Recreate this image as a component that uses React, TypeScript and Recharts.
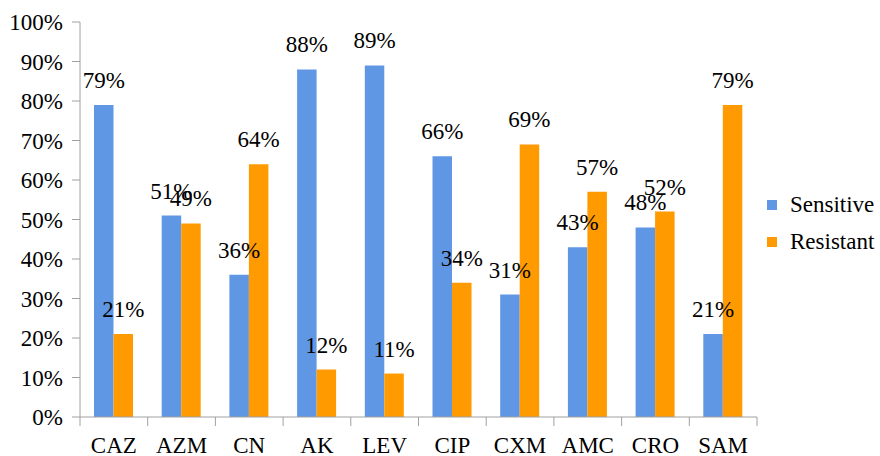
import React from 'react';
import { BarChart, Bar, XAxis, YAxis, Legend, LabelList } from 'recharts';

const categories = ['CAZ', 'AZM', 'CN', 'AK', 'LEV', 'CIP', 'CXM', 'AMC', 'CRO', 'SAM'];
const sensitive = [79, 51, 36, 88, 89, 66, 31, 43, 48, 21];
const resistant = [21, 49, 64, 12, 11, 34, 69, 57, 52, 79];
const yTicks = [0, 10, 20, 30, 40, 50, 60, 70, 80, 90, 100];
const seriesNames = ['Sensitive', 'Resistant'];

const data = categories.map((name, i) => ({
  name,
  Sensitive: sensitive[i],
  Resistant: resistant[i],
}));

const FONT = 'Liberation Serif, Tinos, Times New Roman, DejaVu Serif, serif';
const AXIS = '#A0A0A0';
const BLUE = '#6097E4';
const ORANGE = '#FF9A00';

// Category label plus tick marks placed on the band boundaries
function CategoryTick(props: any) {
  const { x, y, payload, index, visibleTicksCount, width } = props;
  const half =
    typeof payload.offset === 'number' && payload.offset > 0
      ? payload.offset
      : width / visibleTicksCount / 2;
  return (
    <g>
      <line x1={x - half} x2={x - half} y1={y} y2={y + 9} stroke={AXIS} strokeWidth={1} />
      {index === visibleTicksCount - 1 && (
        <line x1={x + half} x2={x + half} y1={y} y2={y + 9} stroke={AXIS} strokeWidth={1} />
      )}
      <text
        x={x}
        y={y + 36}
        textAnchor="middle"
        style={{ fontFamily: FONT, fontSize: 23, fill: '#000' }}
      >
        {payload.value}
      </text>
    </g>
  );
}

function LegendContent(props: any) {
  const payload = [...(props.payload || [])].sort(
    (a: any, b: any) => seriesNames.indexOf(a.value) - seriesNames.indexOf(b.value)
  );
  return (
    <div>
      {payload.map((entry: any) => (
        <div
          key={entry.value}
          style={{ display: 'flex', alignItems: 'center', height: 36.7 }}
        >
          <span
            style={{
              display: 'inline-block',
              width: 10,
              height: 10,
              background: entry.color,
              marginRight: 13,
            }}
          />
          <span style={{ fontFamily: FONT, fontSize: 23, color: '#000', whiteSpace: 'nowrap' }}>
            {entry.value}
          </span>
        </div>
      ))}
    </div>
  );
}

const labelStyle = { fontFamily: FONT, fontSize: 23, fill: '#000' };

export default function App() {
  return (
    <div style={{ position: 'absolute', left: 0, top: 0, background: '#fff', fontFamily: FONT }}>
      <BarChart
        width={880}
        height={456}
        data={data}
        margin={{ top: 22, right: 123, bottom: 0, left: 0 }}
        barGap={0}
      >
        <XAxis
          dataKey="name"
          interval={0}
          height={39}
          axisLine={{ stroke: AXIS }}
          tickLine={false}
          tickSize={0}
          tickMargin={0}
          tick={<CategoryTick />}
        />
        <YAxis
          width={80}
          domain={[0, 100]}
          ticks={yTicks}
          interval={0}
          tickFormatter={(v: number) => `${v}%`}
          axisLine={{ stroke: AXIS }}
          tickLine={{ stroke: AXIS }}
          tickSize={8}
          tickMargin={9}
          tick={{ style: labelStyle, fontFamily: FONT, fontSize: 23, fill: '#000' }}
        />
        <Legend
          layout="vertical"
          align="center"
          verticalAlign="middle"
          content={<LegendContent />}
          wrapperStyle={{ left: 767, top: 187, width: 120 }}
        />
        <Bar dataKey="Sensitive" fill={BLUE} barSize={19.5} isAnimationActive={false}>
          <LabelList
            dataKey="Sensitive"
            position="top"
            offset={17}
            formatter={(v: any) => `${v}%`}
            fontFamily={FONT}
            fontSize={23}
            fill="#000"
            style={labelStyle}
          />
        </Bar>
        <Bar dataKey="Resistant" fill={ORANGE} barSize={19.5} isAnimationActive={false}>
          <LabelList
            dataKey="Resistant"
            position="top"
            offset={17}
            formatter={(v: any) => `${v}%`}
            fontFamily={FONT}
            fontSize={23}
            fill="#000"
            style={labelStyle}
          />
        </Bar>
      </BarChart>
    </div>
  );
}
